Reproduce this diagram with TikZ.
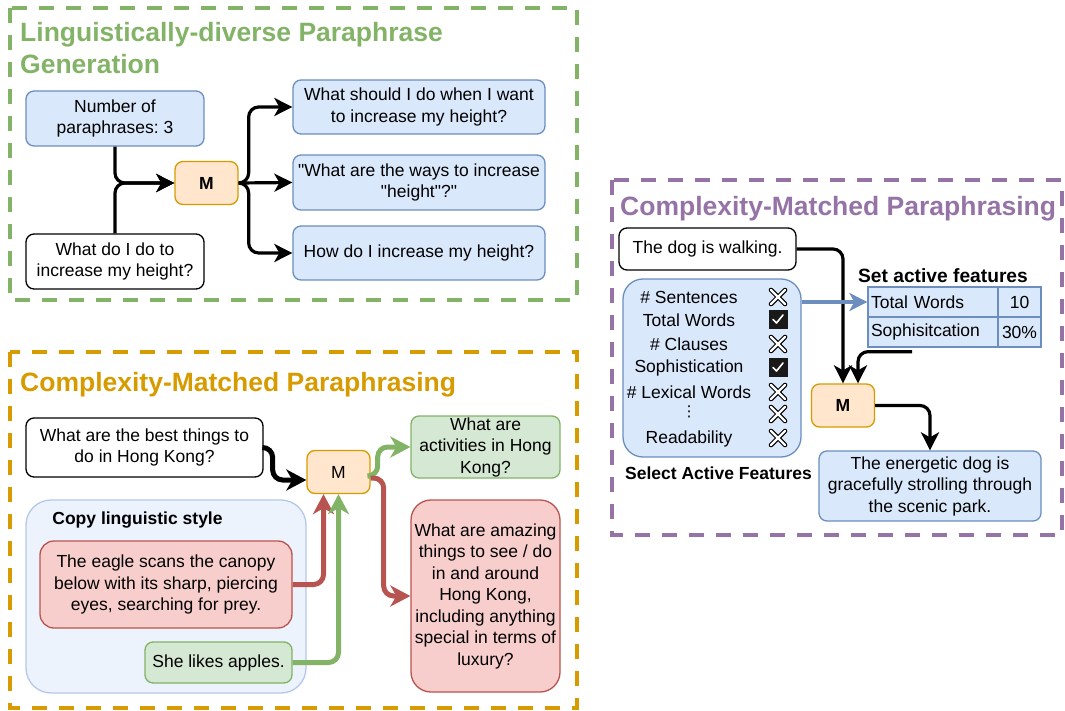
\documentclass[tikz,border=0pt]{standalone}
\usepackage{fontspec}
\setmainfont{Liberation Sans}[Ligatures=TeXOff]
\newfontfamily\dejavu{DejaVu Sans}
\usetikzlibrary{arrows.meta}
\frenchspacing
\definecolor{bluefill}{HTML}{DAE8FC}
\definecolor{bluedraw}{HTML}{6C8EBF}
\definecolor{orgfill}{HTML}{FFE6CC}
\definecolor{orgdraw}{HTML}{D79B00}
\definecolor{grnfill}{HTML}{D5E8D4}
\definecolor{grndraw}{HTML}{82B366}
\definecolor{redfill}{HTML}{F8CECC}
\definecolor{reddraw}{HTML}{B85450}
\definecolor{purp}{HTML}{9673A6}
\definecolor{copyfill}{HTML}{EDF3FD}
\definecolor{copydraw}{HTML}{B3C8E8}
\begin{document}
\begin{tikzpicture}[x=1pt,y=-1pt,
  txt/.style={font=\fontsize{17.5}{21.5}\selectfont, align=center, inner sep=0pt},
  box/.style={txt, draw, rounded corners=8pt, line width=1.3pt},
  bluebox/.style={box, draw=bluedraw, fill=bluefill},
  whitebox/.style={box, draw=black, fill=white},
  mbox/.style={box, draw=orgdraw, fill=orgfill, minimum width=63pt, minimum height=43pt},
  grnbox/.style={box, draw=grndraw, fill=grnfill},
  redbox/.style={box, draw=reddraw, fill=redfill},
  frame/.style={line width=4pt, dash pattern=on 15pt off 12pt},
  title/.style={font=\bfseries\fontsize{26.5}{32}\selectfont, inner sep=0pt, anchor=base west},
  bold/.style={txt, font=\bfseries\fontsize{17.5}{21.5}\selectfont},
  cell/.style={txt, draw=bluedraw, fill=bluefill, line width=1.3pt, minimum height=30pt},
  arr1/.style={draw=black, line width=3.2pt, rounded corners=10pt, -{Stealth[length=18pt,width=18pt,inset=5pt]}},
  arr2/.style={line width=5pt, rounded corners=10pt, -{Stealth[length=20pt,width=21pt,inset=6pt]}},
  arr3/.style={draw=black, line width=3.2pt, rounded corners=10pt, -{Stealth[length=18pt,width=18pt,inset=5pt]}},
  xic/.pic={\draw[black, line width=4.6pt, line cap=round] (-7,-7)--(7,7) (-7,7)--(7,-7);
            \draw[white, line width=2.2pt, line cap=round] (-7,-7)--(7,7) (-7,7)--(7,-7);},
  chk/.pic={\fill[black!90] (-9.5,-9.5) rectangle (9.5,9.5);
            \draw[white, line width=1.6pt, line cap=round, line join=round] (-5,0.5)--(-1.5,4)--(5,-4);}
]
\useasboundingbox (0,0) rectangle (1065,711);

% ---------------- Panel 1 ----------------
\draw[frame, grndraw] (10,8) rectangle (577,300);
\node[title, text=grndraw] (t1a) at (20,41.5) {Linguistically-diverse Paraphrase};
\node[title, text=grndraw] (t1b) at (20,73.5) {Generation};

\node[bluebox, minimum width=178pt, minimum height=55pt] (num) at (115,118.5) {Number of\\paraphrases: 3};
\node[whitebox, minimum width=178pt, minimum height=55pt] (q1) at (115,261.5) {What do I do to\\increase my height?};
\node[mbox, font=\bfseries\fontsize{17.5}{21.5}\selectfont] (m1) at (206.5,183) {M};
\node[bluebox, minimum width=252pt, minimum height=54pt] (o1) at (419,107) {What should I do when I want\\to increase my height?};
\node[bluebox, minimum width=252pt, minimum height=55pt] (o2) at (419,182.5) {"What are the ways to increase\\"height"?"};
\node[bluebox, minimum width=252pt, minimum height=54pt] (o3) at (419,253) {How do I increase my height?};

\draw[arr1] (num.south) |- (m1.west);
\draw[arr1] (q1.north) |- (m1.west);
\draw[arr1] (m1.east) -- ++(10,0) |- (o1.west);
\draw[arr1] (m1.east) -- (o2.west);
\draw[arr1] (m1.east) -- ++(10,0) |- (o3.west);

% ---------------- Panel 2 ----------------
\draw[frame, orgdraw] (10,352) rectangle (577,708);
\node[title, text=orgdraw] (t2) at (20,391.5) {Complexity-Matched Paraphrasing};

\node[whitebox, minimum width=237pt, minimum height=59pt] (q2) at (144.5,447.5) {What are the best things to\\do in Hong Kong?};
\node[mbox] (m2) at (338.5,472) {M};
\node[grnbox, minimum width=149pt, minimum height=62pt] (gout) at (485.5,447) {What are\\activities in Hong\\Kong?};
\node[redbox, rounded corners=20pt, minimum width=149pt, minimum height=192pt] (rout) at (485.5,596)
  {What are amazing\\things to see / do\\in and around\\Hong Kong,\\including anything\\special in terms of\\luxury?};
\node[draw=copydraw, fill=copyfill, line width=1.3pt, rounded corners=25pt, minimum width=280pt, minimum height=193pt, inner sep=0pt] (copy) at (166,596.5) {};
\node[bold] (copyt) at (137.5,520) {Copy linguistic style};
\node[redbox, rounded corners=14pt, minimum width=252pt, minimum height=87pt] (eagle) at (166,584.5) {The eagle scans the canopy\\below with its sharp, piercing\\eyes, searching for prey.};
\node[grnbox, minimum width=147pt, minimum height=41pt] (apples) at (218.5,662.5) {She likes apples.};

\draw[arr2, draw=black] (q2.east) -- ++(9,0) |- ([yshift=-8pt]m2.west);
\draw[arr2, draw=reddraw] (eagle.east) -| ([xshift=-15pt]m2.south);
\draw[arr2, draw=grndraw] (apples.east) -| (m2.south);
\draw[arr2, draw=grndraw] ([yshift=-4pt]m2.east) -- ++(7,0) |- (gout.west);
\draw[arr2, draw=reddraw] ([yshift=-6pt]m2.east) -- ++(13,0) |- (rout.west);

% ---------------- Panel 3 ----------------
\draw[frame, purp] (612,180) rectangle (1062,535);
\node[title, text=purp] (t3) at (620,215.5) {Complexity-Matched Paraphrasing};

\node[whitebox, minimum width=177pt, minimum height=42pt] (dog) at (707.5,249) {The dog is walking.};
\node[draw=bluedraw, fill=bluefill, line width=1.3pt, rounded corners=20pt, minimum width=178pt, minimum height=178pt, inner sep=0pt] (feat) at (712,368) {};
\node[txt] (f1) at (689,297) {\# Sentences};
\node[txt] (f2) at (689,320) {Total Words};
\node[txt] (f3) at (689,344) {\# Clauses};
\node[txt] (f4) at (689,368) {Sophistication};
\node[txt] (f5) at (689,392) {\# Lexical Words};
\node[txt, font=\dejavu\fontsize{15}{18}\selectfont] (f6) at (689,412) {⋮};
\node[txt] (f7) at (689,439) {Readability};
\pic at (778,297) {xic};
\pic at (778,319) {chk};
\pic at (778,344) {xic};
\pic at (778,367) {chk};
\pic at (778,392) {xic};
\pic at (778,414) {xic};
\pic at (778,438) {xic};
\node[bold] (selt) at (718.5,473) {Select Active Features};

\node[bold, font=\bfseries\fontsize{19.2}{23}\selectfont] (sett) at (943,276) {Set active features};
\node[cell, minimum width=130pt, text width=124pt, align=left] (tw) at (933,302) {Total Words};
\node[cell, minimum width=43pt] (twv) at (1019.5,302) {10};
\node[cell, minimum width=130pt, text width=124pt, align=left] (so) at (933,332) {Sophisitcation};
\node[cell, minimum width=43pt] (sov) at (1019.5,332) {30\%};

\node[mbox, font=\bfseries\fontsize{17.5}{21.5}\selectfont] (m3) at (843,405.5) {M};
\node[bluebox, minimum width=222pt, minimum height=70pt] (out3) at (930,486) {The energetic dog is\\gracefully strolling through\\the scenic park.};

\draw[arr3] (dog.east) -| (m3.north);
\draw[arr3] ([xshift=-21pt,yshift=-4pt]so.south) -| ([xshift=15pt]m3.north);
\draw[arr3, draw=bluedraw] (feat.east |- tw.west) -- (tw.west);
\draw[arr3] (m3.east) -| (out3.north);
\end{tikzpicture}
\end{document}
